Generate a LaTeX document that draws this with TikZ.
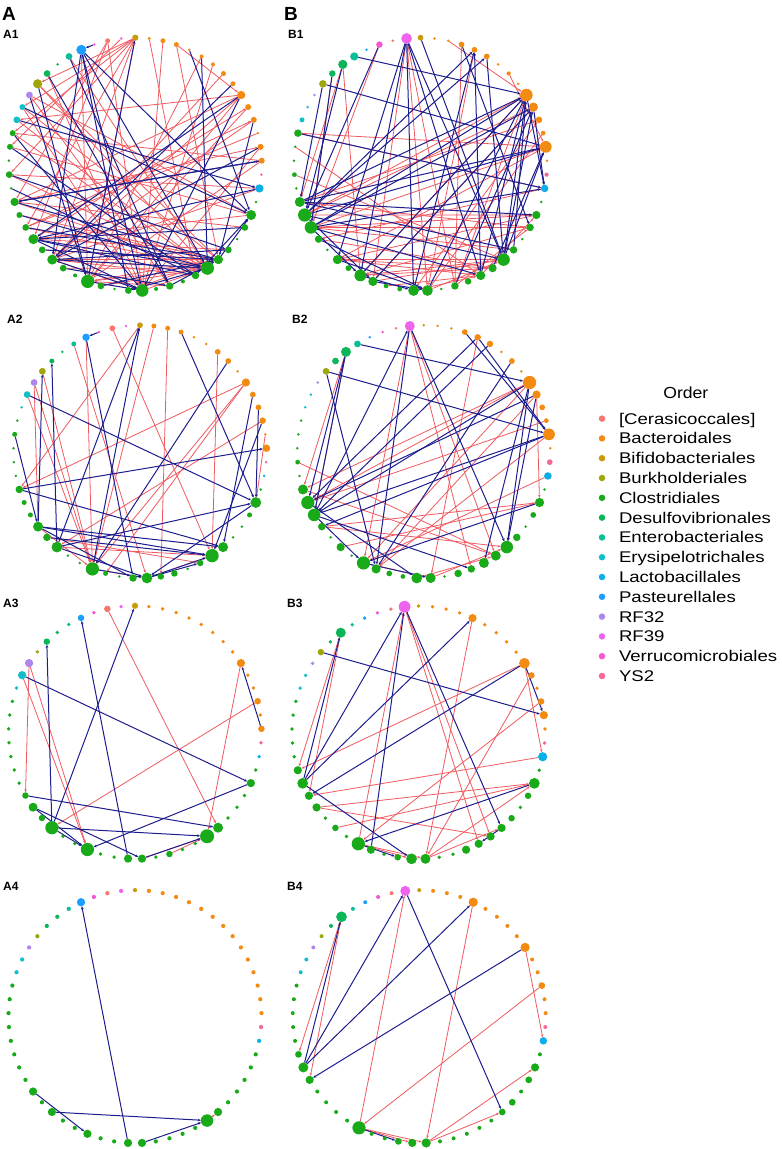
\documentclass[tikz,border=0pt]{standalone}
\usepackage{fontspec}
\setmainfont{Liberation Sans}
\usetikzlibrary{arrows.meta}
\definecolor{vc0}{HTML}{F8766D}
\definecolor{vc1}{HTML}{F38B12}
\definecolor{vc2}{HTML}{C99A0A}
\definecolor{vc3}{HTML}{9EA60C}
\definecolor{vc4}{HTML}{19AA19}
\definecolor{vc5}{HTML}{0DB55A}
\definecolor{vc6}{HTML}{0ABF97}
\definecolor{vc7}{HTML}{12BEC8}
\definecolor{vc8}{HTML}{0AAFEA}
\definecolor{vc9}{HTML}{1A9EFF}
\definecolor{vc10}{HTML}{AE86EE}
\definecolor{vc11}{HTML}{EE64EE}
\definecolor{vc12}{HTML}{F657D3}
\definecolor{vc13}{HTML}{F7659A}
\definecolor{eRed}{HTML}{F05A61}
\definecolor{eBlue}{HTML}{1D1D8E}
\pgfdeclarelayer{bg}
\pgfdeclarelayer{edges}
\pgfsetlayers{bg,edges,main}
\tikzset{
  vtx/.style={circle,inner sep=0pt,outer sep=0pt,draw=none},
  redE/.style={draw=eRed,line width=0.8pt,-{Stealth[length=2.8pt,width=2.4pt]}},
  blueE/.style={draw=eBlue,line width=1.0pt,-{Stealth[length=3pt,width=2.6pt]}},
  plab/.style={anchor=base west,inner sep=0pt,font=\bfseries\fontsize{12}{12}\selectfont},
  biglab/.style={anchor=base west,inner sep=0pt,font=\bfseries\fontsize{19}{19}\selectfont},
  legtxt/.style={anchor=base west,inner sep=0pt,font=\fontsize{15.5}{15.5}\selectfont},
}
\def\clsarr{{2,1,1,1,1,1,1,1,1,1,1,1,1,1,1,13,8,4,4,4,4,4,4,4,4,4,4,4,4,4,4,4,4,4,4,4,4,4,4,4,4,4,4,4,4,4,7,7,10,3,5,5,6,9,12,0,11}}
\newcommand{\mkpanel}[4]{%
  \foreach \rr [count=\kk from 0] in {#4} {%
    \pgfmathsetmacro\ang{90-\kk*6.3157895}%
    \pgfmathsetmacro\ppx{#2+126.5*cos(\ang)}%
    \pgfmathsetmacro\ppy{#3-126.5*sin(\ang)}%
    \pgfmathsetmacro\dd{2.5*\rr}%
    \pgfmathtruncatemacro\cls{\clsarr[\kk]}%
    \node[vtx,minimum size=\dd pt,fill=vc\cls] (#1-\kk) at (\ppx,\ppy) {};
  }%
}
\newcommand{\edg}[3]{\foreach \ea/\eb in {#3} {\draw[#2] (#1-\ea) -- (#1-\eb);}}

\begin{document}
\begin{tikzpicture}[x=1pt,y=-1pt]
\useasboundingbox (0,0) rectangle (782,1149);
\begin{pgfonlayer}{bg}
\fill[white] (0,0) rectangle (782,1149);
\end{pgfonlayer}

% ---------- nodes ----------
\mkpanel{a1}{135.3}{164.2}{2.5,1.3,2.0,2.0,1.1,1.6,1.6,2.0,2.0,3.3,2.4,2.4,1.1,2.4,2.4,1.1,3.3,1.1,4.0,2.7,1.1,2.7,3.7,5.3,3.0,1.6,3.0,1.6,5.0,2.7,1.1,2.7,5.3,1.6,2.7,4.0,2.7,4.0,2.7,2.4,3.3,1.1,2.7,1.1,2.4,2.4,2.7,2.4,2.7,3.7,2.7,1.1,2.7,4.0,1.1,2.0,1.1}
\mkpanel{a2}{140}{451.7}{2.3,2.0,2.0,2.0,1.1,1.1,2.3,2.3,1.1,3.3,2.3,2.3,2.6,1.1,3.0,1.1,1.1,1.1,4.3,2.0,1.1,1.1,4.0,5.3,2.6,1.1,2.6,2.6,4.3,3.0,1.1,2.0,5.3,1.1,1.1,4.3,3.0,4.0,2.0,2.0,3.0,1.1,1.1,1.1,2.0,1.1,1.1,2.7,2.7,2.7,2.0,1.1,2.0,3.0,1.1,2.3,1.1}
\mkpanel{a3}{135}{732.3}{2.5,1.5,1.5,1.5,1.5,1.5,1.5,1.5,1.5,3.3,1.5,1.5,2.6,1.5,2.6,1.5,1.5,1.5,3.3,1.5,1.5,1.5,4.0,5.6,1.5,1.5,2.6,1.5,3.3,3.3,1.5,1.5,5.3,1.5,1.5,5.3,2.6,3.6,2.6,1.5,1.5,1.5,1.5,1.5,1.5,1.5,1.5,3.3,3.3,1.5,2.6,1.5,1.5,2.6,1.5,2.6,1.5}
\mkpanel{a4}{135}{1016.6}{1.7,1.7,1.7,1.7,1.7,1.7,1.7,1.7,1.7,1.7,1.7,1.7,1.7,1.7,1.7,1.7,1.7,1.7,1.7,1.7,1.7,1.7,3.3,5.0,1.7,1.7,1.7,1.7,3.3,3.3,1.7,1.7,3.3,1.7,1.7,3.3,1.7,3.3,1.7,1.7,1.7,1.7,1.7,1.7,1.7,1.7,1.7,1.7,1.7,1.7,1.7,1.7,1.7,3.3,1.7,1.7,1.7}
\mkpanel{b1}{420.5}{164.2}{2.3,1.1,1.1,2.3,2.3,2.3,1.1,1.7,1.1,5.0,3.7,2.6,1.9,4.7,1.1,1.7,3.0,1.1,3.3,3.0,1.1,3.0,5.0,3.3,3.7,2.6,3.0,1.1,4.3,4.3,1.9,1.9,3.7,4.7,2.3,3.7,1.1,3.0,5.0,5.3,4.0,1.1,1.9,1.1,1.1,3.0,2.0,1.1,1.1,3.0,2.6,3.7,3.3,1.1,2.6,1.1,4.3}
\mkpanel{b2}{423.7}{451.7}{1.1,1.1,1.1,2.3,2.6,2.6,1.1,2.3,1.1,5.3,3.3,2.3,1.9,4.7,1.1,2.3,3.0,1.1,3.7,2.3,1.1,3.0,5.0,4.0,4.0,3.0,3.0,1.1,4.0,4.3,1.9,2.3,3.7,5.3,1.1,3.3,1.1,3.0,5.0,5.3,4.0,1.1,1.9,1.1,1.1,1.1,1.1,1.1,1.1,2.7,2.7,4.0,2.7,1.1,1.1,1.1,4.0}
\mkpanel{b3}{418.5}{732.5}{1.5,1.5,1.5,1.5,3.3,1.5,1.5,1.5,1.5,4.3,2.6,1.5,2.6,3.3,1.5,1.5,3.7,1.5,4.3,2.6,1.5,2.6,3.3,3.3,3.3,3.3,1.5,1.5,4.0,4.3,2.6,1.5,3.3,5.3,1.5,2.6,1.5,3.3,3.3,4.3,3.3,1.5,1.5,1.5,1.5,1.5,1.5,1.5,1.5,2.6,1.5,4.0,1.5,1.5,1.5,1.5,4.7}
\mkpanel{b4}{419.2}{1016.6}{1.6,1.6,1.6,1.6,3.7,1.6,1.6,1.6,1.6,3.7,1.6,1.6,2.7,1.6,1.6,1.6,3.0,1.6,3.3,2.7,1.6,2.7,2.7,1.6,1.6,1.6,1.6,1.6,3.7,3.3,2.7,1.6,1.6,5.3,1.6,1.6,1.6,1.6,3.3,4.0,2.7,1.6,1.6,1.6,1.6,1.6,1.6,1.6,1.6,1.6,1.6,4.3,1.6,1.6,1.6,1.6,4.0}

% ---------- edges ----------
\begin{pgfonlayer}{edges}
\edg{a1}{redE}{0/49,0/47,0/45,0/42,0/38,0/35,0/32,55/40,55/37,55/28,2/28,3/9,3/22,56/44,53/32,49/23,49/22,48/18,47/22,46/23,45/23,44/18,42/16,40/13,38/11,37/10,35/9,32/9,9/40,10/32,11/35,13/28,14/32,16/35,18/37,22/35,23/32,23/35,23/38,24/35,26/32,28/35,28/23,29/22,31/23,32/22,34/23,36/22,40/23,39/22,42/23,21/37,19/40,50/28,52/23,5/32,7/35,12/38,6/28,9/46,14/45,48/26,47/28,1/24}
\edg{a1}{blueE}{53/28,53/29,53/23,53/18,54/53,32/0,49/32,50/26,47/18,46/16,40/14,44/24,37/23,35/23,38/22,40/22,37/24,34/26,32/28,35/28,37/28,29/23,26/22,24/18,22/18,9/37,8/35,4/18,5/23,9/28,11/22,13/35,14/40,16/37,19/37,21/35,45/28,42/21,48/32,52/26,39/23,36/22,31/22,41/24,53/35}
\edg{b1}{redE}{56/32,56/28,56/26,51/33,51/40,50/38,45/13,45/16,42/22,44/24,39/9,39/10,38/13,40/11,39/18,38/19,37/23,35/24,35/22,9/33,10/32,13/35,11/29,12/28,9/26,16/37,18/38,19/40,3/26,4/28,2/9,7/13,28/22,29/24,32/22,33/23,31/24,26/19,24/18,23/35,22/33,21/38,19/33,18/35,54/38}
\edg{b1}{blueE}{56/33,56/29,56/24,56/22,56/35,0/22,52/9,49/13,50/38,51/39,49/40,54/39,39/4,39/5,38/9,38/10,40/9,40/13,39/13,38/16,40/18,45/16,33/9,32/10,29/4,28/9,26/10,24/9,22/9,22/10,23/13,22/13,21/9,24/4,39/22,38/24,40/21,35/28,33/29,32/28,38/33,39/32,37/28,5/22,3/19,9/16,10/16}
\edg{a2}{redE}{55/23,52/28,0/40,1/32,2/27,6/23,9/40,9/32,9/31,12/35,13/18,48/37,48/32,47/32,49/32,53/32,35/23,36/24,32/28,28/23,37/32}
\edg{a2}{blueE}{54/53,32/0,35/0,53/29,35/50,37/49,47/18,3/18,40/14,44/37,37/23,40/22,35/18,37/22,36/23,11/18,10/22,12/23,28/23,28/24,32/28,37/29,35/28,18/28,7/32}
\edg{b2}{redE}{51/40,51/38,56/33,56/23,4/28,9/40,9/39,9/33,10/32,10/18,16/33,42/23,37/18,35/18,37/22,40/23,33/28,29/23,28/22,12/39,13/32,56/25}
\edg{b2}{blueE}{52/9,49/13,49/32,51/38,51/39,38/56,56/32,56/22,4/39,5/38,7/32,9/38,10/39,13/37,9/24,9/22,10/22,18/33,38/33,38/25,33/28,3/13,4/13,39/29,13/38}
\edg{a3}{redE}{55/22,48/38,48/32,47/32,9/23,12/35,23/28,26/23}
\edg{a3}{blueE}{47/18,35/0,29/53,35/50,14/9,38/22,18/32,37/28,35/23,37/32,28/23,35/32}
\edg{b3}{redE}{51/40,51/38,33/56,56/24,56/23,4/28,9/40,9/16,10/28,12/33,37/18,37/23,35/18,16/38,28/18,28/22,33/29,33/28}
\edg{b3}{blueE}{39/56,32/56,56/22,39/4,9/38,39/51,49/13,39/29,18/33,9/13,33/30,22/24}
\edg{a4}{redE}{23/22}
\edg{a4}{blueE}{29/53,37/32,35/23,28/23}
\edg{b4}{redE}{51/40,51/38,33/56,4/28,9/16,12/33,28/18,28/22,33/29,33/28}
\edg{b4}{blueE}{39/56,39/4,9/38,56/22,39/51,33/30}
\end{pgfonlayer}

% ---------- labels ----------
\node[biglab] (lA) at (2,20) {A};
\node[biglab] (lB) at (284,20) {B};
\node[plab] (lA1) at (3,38) {A1};
\node[plab] (lB1) at (288,38) {B1};
\node[plab] (lA2) at (7,323) {A2};
\node[plab] (lB2) at (292,323) {B2};
\node[plab] (lA3) at (3,607) {A3};
\node[plab] (lB3) at (287,607) {B3};
\node[plab] (lA4) at (3,890) {A4};
\node[plab] (lB4) at (287,890) {B4};

% ---------- legend ----------
\node[anchor=base,inner sep=0pt,font=\fontsize{16}{16}\selectfont] (ltitle) at (685.8,398) {\scalebox{1.1}[1]{Order}};
\foreach \lab [count=\ii from 0] in {{[Cerasicoccales]},Bacteroidales,Bifidobacteriales,Burkholderiales,Clostridiales,Desulfovibrionales,Enterobacteriales,Erysipelotrichales,Lactobacillales,Pasteurellales,RF32,RF39,Verrucomicrobiales,YS2} {
  \pgfmathsetmacro\yy{424+19.8*\ii}
  \node[circle,inner sep=0pt,minimum size=6.5pt,fill=vc\ii] (ld\ii) at (602,\yy-5.4) {};
  \node[legtxt] (lt\ii) at (618.8,\yy) {\scalebox{1.2}[1]{\lab}};
}
\end{tikzpicture}
\end{document}
